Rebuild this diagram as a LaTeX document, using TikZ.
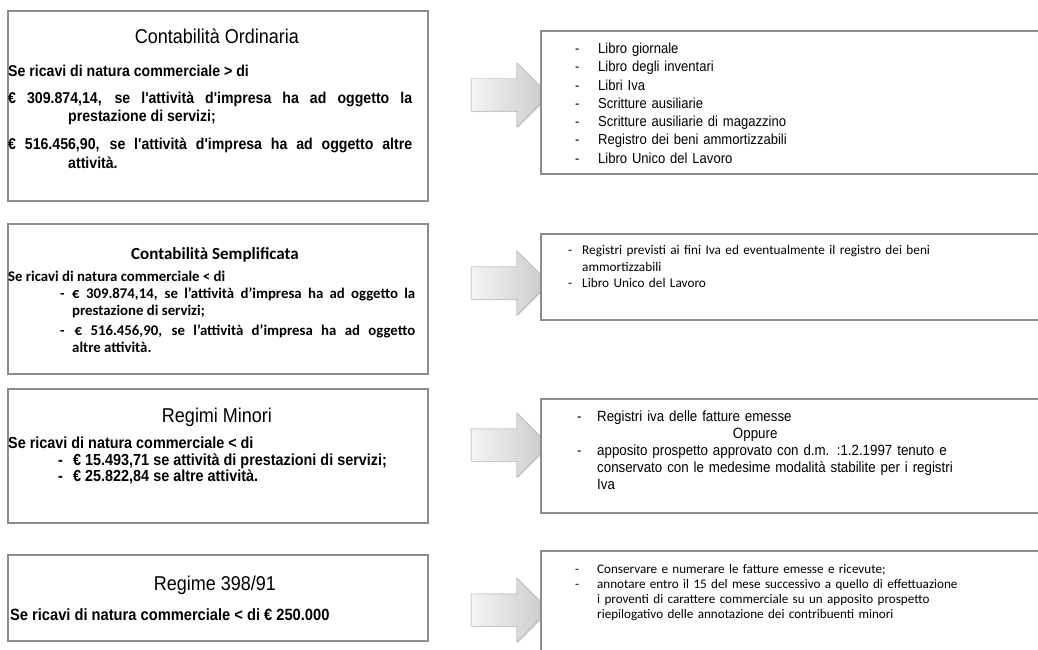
\documentclass[tikz,border=0pt]{standalone}
\usepackage{fontspec}
\usepackage{tikz}
\usetikzlibrary{shapes.arrows,shadows}

\newfontfamily\narrowsf{Liberation Sans}[FakeStretch=0.9]
\newfontfamily\calibsf{Carlito}

\newcommand{\hangpar}[1]{\par\noindent\hangindent=#1\hangafter=1 }
\newcommand{\dashitem}[2]{\par\noindent\hangindent=#2\hangafter=1\makebox[#2][l]{\hspace*{#1}-}}

\begin{document}
\begin{tikzpicture}[x=1pt,y=1pt,
    condbox/.style={rectangle,draw=black!45,line width=1.6pt,fill=white,inner sep=0pt,anchor=north west,
      drop shadow={shadow xshift=0.8pt,shadow yshift=-0.8pt,opacity=0.3}},
    headtxt/.style={anchor=base,inner sep=0pt},
    condtxt/.style={anchor=north west,inner sep=0pt,text width=#1,align=justify},
    reqtxt/.style={anchor=north west,inner sep=0pt,text width=460pt,align=left},
    blockarrow/.style={single arrow,draw=gray!75,left color=gray!8,right color=gray!42,
      inner xsep=0pt,inner ysep=16pt,single arrow head extend=16pt,minimum height=78pt,
      drop shadow={shadow xshift=1pt,shadow yshift=-1pt,opacity=0.25}}]
  \useasboundingbox (0,0) rectangle (1038,-650);

  % Contabilita ordinaria
  \node[condbox,minimum width=420,minimum height=190] (ordBox) at (7,-10) {};
  \node[headtxt,font=\narrowsf\fontsize{20}{24}\selectfont] (ordTitle) at (217,-44) {Contabilità Ordinaria};
  \node[condtxt=404pt,font=\narrowsf\bfseries\fontsize{15.7}{18.7}\selectfont] (ordText) at (8,-65)
    {Se ricavi di natura commerciale > di\par\vspace{8pt}
     \hangpar{60pt}€ 309.874,14, se l'attività d'impresa ha ad oggetto la\linebreak prestazione di servizi;\par\vspace{9pt}
     \hangpar{60pt}€ 516.456,90, se l'attività d'impresa ha ad oggetto altre\linebreak attività.\par};
  \node[blockarrow] (ordArrow) at (502,-95) {};
  \node[condbox,minimum width=520,minimum height=143] (ordReq) at (540,-30) {};
  \node[reqtxt,font=\narrowsf\fontsize{14.5}{18.3}\selectfont] (ordList) at (560,-35)
    {\dashitem{15pt}{38pt}Libro giornale
     \dashitem{15pt}{38pt}Libro degli inventari
     \dashitem{15pt}{38pt}Libri Iva
     \dashitem{15pt}{38pt}Scritture ausiliarie
     \dashitem{15pt}{38pt}Scritture ausiliarie di magazzino
     \dashitem{15pt}{38pt}Registro dei beni ammortizzabili
     \dashitem{15pt}{38pt}Libro Unico del Lavoro\par};

  % Contabilita semplificata
  \node[condbox,minimum width=420,minimum height=150] (semBox) at (7,-223) {};
  \node[headtxt,font=\calibsf\bfseries\fontsize{17}{20}\selectfont] (semTitle) at (215,-259) {Contabilità Semplificata};
  \node[condtxt=407pt,font=\calibsf\bfseries\fontsize{14.8}{17}\selectfont] (semText) at (8,-271)
    {Se ricavi di natura commerciale < di
     \dashitem{52pt}{64pt}€ 309.874,14, se l’attività d’impresa ha ad oggetto la\linebreak prestazione di servizi;\par\vspace{3pt}
     \dashitem{52pt}{64pt}\,€ 516.456,90, se l’attività d’impresa ha ad oggetto\linebreak altre attività.\par};
  \node[blockarrow] (semArrow) at (502,-283) {};
  \node[condbox,minimum width=520,minimum height=86] (semReq) at (540,-233) {};
  \node[reqtxt,font=\calibsf\fontsize{13.25}{16.5}\selectfont] (semList) at (560,-238)
    {\dashitem{8pt}{22pt}Registri previsti ai fini Iva ed eventualmente il registro dei beni\newline ammortizzabili
     \dashitem{8pt}{22pt}Libro Unico del Lavoro\par};

  % Regimi minori
  \node[condbox,minimum width=420,minimum height=134] (minBox) at (7,-388) {};
  \node[headtxt,font=\narrowsf\fontsize{20}{24}\selectfont] (minTitle) at (217,-422) {Regimi Minori};
  \node[condtxt=405pt,font=\narrowsf\bfseries\fontsize{16}{16.5}\selectfont] (minText) at (8,-437)
    {Se ricavi di natura commerciale < di
     \dashitem{50pt}{65pt}€ 15.493,71 se attività di prestazioni di servizi;
     \dashitem{50pt}{65pt}€ 25.822,84 se altre attività.\par};
  \node[blockarrow] (minArrow) at (502,-445) {};
  \node[condbox,minimum width=520,minimum height=114] (minReq) at (540,-398) {};
  \node[reqtxt,font=\narrowsf\fontsize{14.8}{17}\selectfont] (minList) at (560,-404)
    {\dashitem{17pt}{37pt}Registri iva delle fatture emesse
     \par\noindent\makebox[390pt]{Oppure}
     \dashitem{17pt}{37pt}apposito prospetto approvato con d.m. :1.2.1997 tenuto e\newline conservato con le medesime modalità stabilite per i registri\newline Iva\par};

  % Regime 398/91
  \node[condbox,minimum width=420,minimum height=86] (regBox) at (7,-554) {};
  \node[headtxt,font=\narrowsf\fontsize{20}{24}\selectfont] (regTitle) at (215,-590) {Regime 398/91};
  \node[condtxt=405pt,font=\narrowsf\bfseries\fontsize{16.3}{18}\selectfont] (regText) at (10,-608)
    {Se ricavi di natura commerciale < di € 250.000\par};
  \node[blockarrow] (regArrow) at (502,-610) {};
  \node[condbox,minimum width=520,minimum height=150] (regReq) at (540,-550) {};
  \node[reqtxt,font=\calibsf\fontsize{13.1}{15}\selectfont] (regList) at (560,-558)
    {\dashitem{15pt}{37pt}Conservare e numerare le fatture emesse e ricevute;
     \dashitem{15pt}{37pt}annotare entro il 15 del mese successivo a quello di effettuazione\newline i proventi di carattere commerciale su un apposito prospetto\newline riepilogativo delle annotazione dei contribuenti minori\par};
\end{tikzpicture}
\end{document}
